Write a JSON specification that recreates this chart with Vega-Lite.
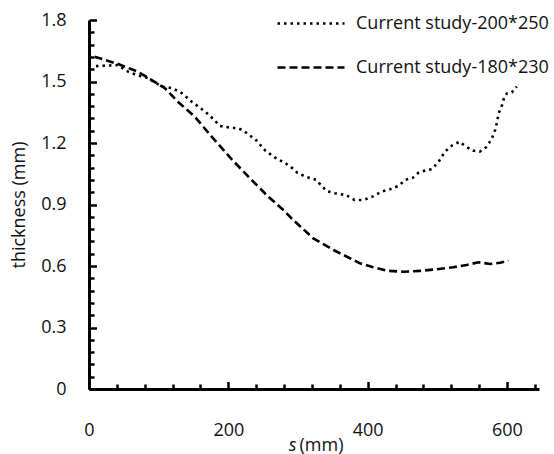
{
  "$schema": "https://vega.github.io/schema/vega-lite/v6.json",
  "autosize": {"type": "none"},
  "padding": {"left": 89, "top": 20, "right": 15, "bottom": 65},
  "width": 450,
  "height": 369,
  "background": "white",
  "config": {
    "view": {"stroke": null},
    "font": "Open Sans",
    "axis": {
      "grid": false,
      "domainColor": "#000",
      "domainWidth": 3,
      "tickColor": "#000",
      "tickWidth": 2.5,
      "labelFont": "Open Sans",
      "labelFontSize": 18,
      "labelColor": "#111",
      "labelFlush": false,
      "titleFont": "Open Sans",
      "titleFontSize": 18,
      "titleFontWeight": "normal",
      "titleColor": "#111"
    }
  },
  "data": {
    "values": [
      {"series": "Current study-200*250", "s": 10, "t": 1.575},
      {"series": "Current study-200*250", "s": 27, "t": 1.578},
      {"series": "Current study-200*250", "s": 41, "t": 1.58},
      {"series": "Current study-200*250", "s": 56, "t": 1.548},
      {"series": "Current study-200*250", "s": 70, "t": 1.53},
      {"series": "Current study-200*250", "s": 84, "t": 1.517},
      {"series": "Current study-200*250", "s": 105, "t": 1.475},
      {"series": "Current study-200*250", "s": 119, "t": 1.468},
      {"series": "Current study-200*250", "s": 133, "t": 1.444},
      {"series": "Current study-200*250", "s": 148, "t": 1.4},
      {"series": "Current study-200*250", "s": 162, "t": 1.365},
      {"series": "Current study-200*250", "s": 173, "t": 1.335},
      {"series": "Current study-200*250", "s": 188, "t": 1.283},
      {"series": "Current study-200*250", "s": 206, "t": 1.273},
      {"series": "Current study-200*250", "s": 213, "t": 1.273},
      {"series": "Current study-200*250", "s": 221, "t": 1.262},
      {"series": "Current study-200*250", "s": 232, "t": 1.234},
      {"series": "Current study-200*250", "s": 241, "t": 1.211},
      {"series": "Current study-200*250", "s": 248, "t": 1.182},
      {"series": "Current study-200*250", "s": 253, "t": 1.163},
      {"series": "Current study-200*250", "s": 262, "t": 1.141},
      {"series": "Current study-200*250", "s": 270, "t": 1.122},
      {"series": "Current study-200*250", "s": 281, "t": 1.104},
      {"series": "Current study-200*250", "s": 292, "t": 1.077},
      {"series": "Current study-200*250", "s": 299, "t": 1.055},
      {"series": "Current study-200*250", "s": 311, "t": 1.036},
      {"series": "Current study-200*250", "s": 326, "t": 1.02},
      {"series": "Current study-200*250", "s": 336, "t": 0.984},
      {"series": "Current study-200*250", "s": 341, "t": 0.966},
      {"series": "Current study-200*250", "s": 353, "t": 0.955},
      {"series": "Current study-200*250", "s": 369, "t": 0.946},
      {"series": "Current study-200*250", "s": 381, "t": 0.922},
      {"series": "Current study-200*250", "s": 394, "t": 0.922},
      {"series": "Current study-200*250", "s": 408, "t": 0.94},
      {"series": "Current study-200*250", "s": 420, "t": 0.963},
      {"series": "Current study-200*250", "s": 432, "t": 0.974},
      {"series": "Current study-200*250", "s": 444, "t": 0.99},
      {"series": "Current study-200*250", "s": 454, "t": 1.02},
      {"series": "Current study-200*250", "s": 465, "t": 1.031},
      {"series": "Current study-200*250", "s": 473, "t": 1.055},
      {"series": "Current study-200*250", "s": 485, "t": 1.068},
      {"series": "Current study-200*250", "s": 492, "t": 1.072},
      {"series": "Current study-200*250", "s": 502, "t": 1.109},
      {"series": "Current study-200*250", "s": 511, "t": 1.158},
      {"series": "Current study-200*250", "s": 522, "t": 1.19},
      {"series": "Current study-200*250", "s": 532, "t": 1.206},
      {"series": "Current study-200*250", "s": 540, "t": 1.185},
      {"series": "Current study-200*250", "s": 551, "t": 1.163},
      {"series": "Current study-200*250", "s": 561, "t": 1.158},
      {"series": "Current study-200*250", "s": 570, "t": 1.179},
      {"series": "Current study-200*250", "s": 578, "t": 1.218},
      {"series": "Current study-200*250", "s": 583, "t": 1.263},
      {"series": "Current study-200*250", "s": 586, "t": 1.304},
      {"series": "Current study-200*250", "s": 588, "t": 1.345},
      {"series": "Current study-200*250", "s": 593, "t": 1.385},
      {"series": "Current study-200*250", "s": 596, "t": 1.423},
      {"series": "Current study-200*250", "s": 600, "t": 1.442},
      {"series": "Current study-200*250", "s": 607, "t": 1.447},
      {"series": "Current study-200*250", "s": 614, "t": 1.475},
      {"series": "Current study-180*230", "s": 8, "t": 1.621},
      {"series": "Current study-180*230", "s": 42, "t": 1.585},
      {"series": "Current study-180*230", "s": 70, "t": 1.548},
      {"series": "Current study-180*230", "s": 90, "t": 1.507},
      {"series": "Current study-180*230", "s": 109, "t": 1.467},
      {"series": "Current study-180*230", "s": 128, "t": 1.4},
      {"series": "Current study-180*230", "s": 152, "t": 1.328},
      {"series": "Current study-180*230", "s": 176, "t": 1.231},
      {"series": "Current study-180*230", "s": 205, "t": 1.12},
      {"series": "Current study-180*230", "s": 231, "t": 1.028},
      {"series": "Current study-180*230", "s": 255, "t": 0.946},
      {"series": "Current study-180*230", "s": 279, "t": 0.873},
      {"series": "Current study-180*230", "s": 293, "t": 0.825},
      {"series": "Current study-180*230", "s": 322, "t": 0.735},
      {"series": "Current study-180*230", "s": 351, "t": 0.678},
      {"series": "Current study-180*230", "s": 380, "t": 0.629},
      {"series": "Current study-180*230", "s": 389, "t": 0.613},
      {"series": "Current study-180*230", "s": 408, "t": 0.594},
      {"series": "Current study-180*230", "s": 428, "t": 0.577},
      {"series": "Current study-180*230", "s": 451, "t": 0.572},
      {"series": "Current study-180*230", "s": 475, "t": 0.576},
      {"series": "Current study-180*230", "s": 499, "t": 0.584},
      {"series": "Current study-180*230", "s": 523, "t": 0.594},
      {"series": "Current study-180*230", "s": 542, "t": 0.605},
      {"series": "Current study-180*230", "s": 559, "t": 0.618},
      {"series": "Current study-180*230", "s": 576, "t": 0.61},
      {"series": "Current study-180*230", "s": 590, "t": 0.616},
      {"series": "Current study-180*230", "s": 602, "t": 0.626}
    ]
  },
  "layer": [
    {
      "transform": [{"filter": "datum.series === 'Current study-200*250'"}],
      "mark": {"type": "line", "color": "#000", "strokeWidth": 2.6},
      "encoding": {
        "x": {
          "field": "s",
          "type": "quantitative",
          "scale": {"domain": [0, 646], "nice": false, "zero": false},
          "axis": {
            "orient": "bottom",
            "title": "(mm)",
            "titleX": 232,
            "titleY": 61,
            "titleAlign": "center",
            "titleBaseline": "alphabetic",
            "values": [0, 200, 400, 600],
            "tickSize": -7.5,
            "labelPadding": 39.5
          }
        },
        "y": {
          "field": "t",
          "type": "quantitative",
          "scale": {"domain": [0, 1.8], "nice": false},
          "axis": {
            "orient": "left",
            "title": "thickness (mm)",
            "values": [0, 0.3, 0.6, 0.9, 1.2, 1.5, 1.8],
            "labelExpr": "datum.value === 0 ? '0' : format(datum.value, '.1f')",
            "tickSize": -7.5,
            "labelPadding": 30.5,
            "titlePadding": 12
          }
        },
        "strokeDash": {
          "field": "series",
          "type": "nominal",
          "scale": {
            "domain": ["Current study-200*250", "Current study-180*230"],
            "range": [[2.5, 4], [8, 4]]
          },
          "legend": {
            "title": null,
            "orient": "none",
            "legendX": 187,
            "legendY": -31.5,
            "symbolType": "stroke",
            "symbolSize": 4489,
            "symbolStrokeWidth": 2.6,
            "symbolStrokeColor": "#000",
            "labelFontSize": 18,
            "labelFont": "Open Sans",
            "labelColor": "#111",
            "labelLimit": 400,
            "labelOffset": 10,
            "rowPadding": -34
          }
        },
        "order": {"field": "s", "type": "quantitative"}
      }
    },
    {
      "transform": [{"filter": "datum.series === 'Current study-180*230'"}],
      "mark": {"type": "line", "color": "#000", "strokeWidth": 2.6},
      "encoding": {
        "x": {
          "field": "s",
          "type": "quantitative",
          "axis": {
            "orient": "bottom",
            "title": "s",
            "titleFontStyle": "italic",
            "titleX": 203,
            "titleY": 61,
            "titleAlign": "center",
            "titleBaseline": "alphabetic",
            "values": [40, 80, 120, 160, 240, 280, 320, 360, 440, 480, 520, 560, 640],
            "tickSize": -5,
            "labels": false,
            "domain": false
          }
        },
        "y": {
          "field": "t",
          "type": "quantitative",
          "axis": {
            "orient": "left",
            "title": null,
            "values": [0.06, 0.12, 0.18, 0.24, 0.36, 0.42, 0.48, 0.54, 0.66, 0.72, 0.78, 0.84, 0.96, 1.02, 1.08, 1.14, 1.26, 1.32, 1.38, 1.44, 1.56, 1.62, 1.68, 1.74],
            "tickSize": -5,
            "labels": false,
            "domain": false
          }
        },
        "strokeDash": {"field": "series", "type": "nominal"},
        "order": {"field": "s", "type": "quantitative"}
      }
    }
  ],
  "resolve": {"axis": {"x": "independent", "y": "independent"}}
}
